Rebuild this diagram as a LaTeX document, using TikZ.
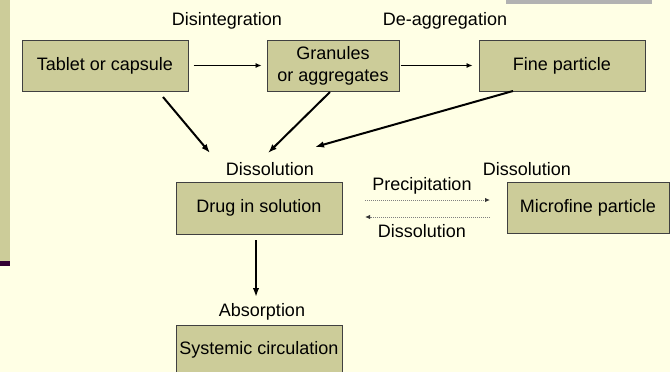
\documentclass[tikz,border=0pt]{standalone}
\usepackage{fontspec}
\setmainfont{Liberation Sans}
\usetikzlibrary{arrows.meta}
\definecolor{bgc}{RGB}{255,255,229}
\definecolor{boxc}{RGB}{204,204,153}
\definecolor{edgec}{RGB}{64,64,64}
\definecolor{greyc}{RGB}{178,178,178}
\definecolor{purp}{RGB}{51,0,51}
\tikzset{
  box/.style={draw=edgec, line width=1pt, fill=boxc, inner sep=0pt, align=center,
    font=\fontsize{18}{22}\selectfont},
  lbl/.style={inner sep=0pt, font=\fontsize{18}{22}\selectfont},
  thinarr/.style={-{Latex[length=6pt,width=5pt]}, line width=0.9pt, black},
  thickarr/.style={-{Latex[length=9pt,width=6.5pt]}, line width=2pt, black},
  dotarr/.style={-{Latex[length=5pt,width=4.5pt,color=black!80]}, line width=1pt, gray,
    dash pattern=on 1pt off 1pt},
}
\begin{document}
\begin{tikzpicture}[x=1pt,y=-1pt]
\path[use as bounding box, fill=bgc] (0,0) rectangle (670,372);
% decorations
\fill[boxc] (0,0) rectangle (10,261);
\fill[purp] (0,261) rectangle (10,266);
\fill[greyc] (506,0) rectangle (652,4);
% boxes
\node[box, minimum width=166pt, minimum height=51pt] (tab) at (105,65.5) {Tablet or capsule};
\node[box, minimum width=132pt, minimum height=51pt] (gran) at (333,65.5) {Granules\\or aggregates};
\node[box, minimum width=166pt, minimum height=51pt] (fine) at (562,65.5) {Fine particle};
\node[box, minimum width=166pt, minimum height=52pt] (drug) at (259,208) {Drug in solution};
\node[box, minimum width=162pt, minimum height=51pt] (micro) at (588,208) {Microfine particle};
\node[box, minimum width=166pt, minimum height=54pt] (sys) at (259,352) {};
\node[lbl] (systext) at (259,350) {Systemic circulation};
% labels
\node[lbl] (ldis) at (227,21) {Disintegration};
\node[lbl] (ldeag) at (445,21) {De-aggregation};
\node[lbl] (ldiss) at (270,169) {Dissolution};
\node[lbl] (lprec) at (422,186) {Precipitation};
\node[lbl] (ldiss2) at (422,231) {Dissolution};
\node[lbl] (ldiss3) at (527,169) {Dissolution};
\node[lbl] (labs) at (262,312) {Absorption};
% coordinates
\coordinate (t0) at (163,97);
\coordinate (t1) at (210,153);
\coordinate (g0) at (330,92);
\coordinate (g1) at (268,153);
\coordinate (f0) at (513,91);
\coordinate (f1) at (315,147);
\coordinate (p0) at (365,200);
\coordinate (p1) at (490,200);
\coordinate (q0) at (490,217);
\coordinate (q1) at (365,217);
\coordinate (a0) at (256,240);
\coordinate (a1) at (256,297);
% connectors
\draw[thinarr, shorten <=5pt, shorten >=5pt] (tab) -- (gran);
\draw[thinarr, shorten <=1pt, shorten >=6pt] (gran) -- (fine);
\draw[thickarr] (t0) -- (t1);
\draw[thickarr] (g0) -- (g1);
\draw[thickarr] (f0) -- (f1);
\draw[dotarr] (p0) -- (p1);
\draw[dotarr] (q0) -- (q1);
\draw[thickarr] (a0) -- (a1);
\end{tikzpicture}
\end{document}
